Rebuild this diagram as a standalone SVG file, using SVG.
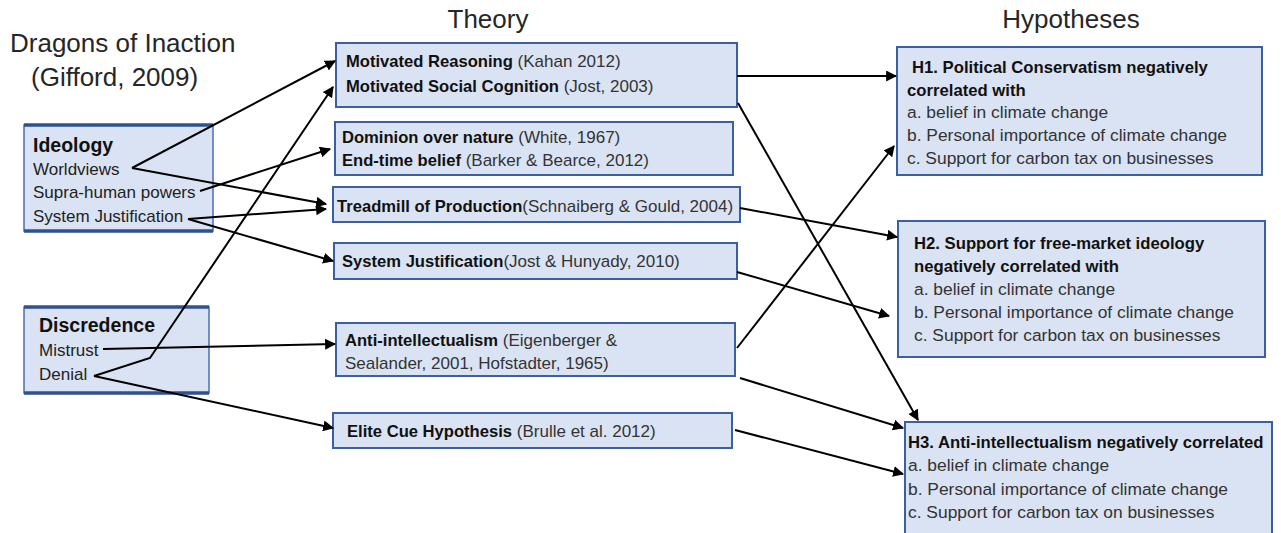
<svg xmlns="http://www.w3.org/2000/svg" width="1281" height="533" viewBox="0 0 1281 533">
  <style>
    text { font-family: "Liberation Sans", Arial, sans-serif; fill: #222; }
    .title { font-size: 26px; fill: #262626; }
    .head { font-size: 19.5px; font-weight: bold; fill: #111; }
    .item { font-size: 17px; }
    .tb { font-size: 16.6px; font-weight: bold; fill: #111; }
    .tr { font-size: 17px; font-weight: normal; fill: #333; }
    .hb { font-size: 16.7px; font-weight: bold; fill: #111; }
    .hr { font-size: 17.4px; fill: #333; }
    .box { fill: #dae3f3; stroke: #3b5fa0; stroke-width: 2; }
    .side { fill: #dae3f3; stroke: #4a6fae; stroke-width: 1.5; }
    .edge { stroke: #2f528f; stroke-width: 3.5; }
    .conn { fill: none; stroke: #000; stroke-width: 2; marker-end: url(#arrow); }
  </style>
  <defs>
    <marker id="arrow" viewBox="0 0 10 10" refX="9" refY="5" markerWidth="5.5" markerHeight="5.5" orient="auto" markerUnits="strokeWidth">
      <path d="M0,0 L10,5 L0,10 z" fill="#000"/>
    </marker>
  </defs>

  <!-- column headings -->
  <g id="headings">
    <text class="title" x="10" y="52">Dragons of Inaction</text>
    <text class="title" x="31" y="86">(Gifford, 2009)</text>
    <text class="title" x="488" y="28" text-anchor="middle">Theory</text>
    <text class="title" x="1071" y="28" text-anchor="middle">Hypotheses</text>
  </g>

  <!-- left-hand source boxes -->
  <g id="ideology">
    <rect class="side" x="24" y="125" width="189" height="106"/>
    <line class="edge" x1="24" y1="125" x2="213" y2="125"/>
    <line class="edge" x1="24" y1="231" x2="213" y2="231"/>
    <text class="head" x="33" y="152">Ideology</text>
    <text class="item" x="33" y="175">Worldviews</text>
    <text class="item" x="33" y="198">Supra-human powers</text>
    <text class="item" x="33" y="222">System Justification</text>
  </g>
  <g id="discredence">
    <rect class="side" x="24" y="307" width="185" height="86"/>
    <line class="edge" x1="24" y1="307" x2="209" y2="307"/>
    <line class="edge" x1="24" y1="393" x2="209" y2="393"/>
    <text class="head" x="39" y="332">Discredence</text>
    <text class="item" x="39" y="356">Mistrust</text>
    <text class="item" x="39" y="380">Denial</text>
  </g>

  <!-- theory boxes -->
  <g id="motivated">
    <rect class="box" x="336" y="43" width="401" height="64"/>
    <text class="tb" x="346" y="67">Motivated Reasoning<tspan class="tr"> (Kahan 2012)</tspan></text>
    <text class="tb" x="346" y="92">Motivated Social Cognition<tspan class="tr"> (Jost, 2003)</tspan></text>
  </g>
  <g id="dominion">
    <rect class="box" x="335" y="122" width="398" height="53"/>
    <text class="tb" x="342" y="143">Dominion over nature<tspan class="tr"> (White, 1967)</tspan></text>
    <text class="tb" x="342" y="166">End-time belief<tspan class="tr"> (Barker &amp; Bearce, 2012)</tspan></text>
  </g>
  <g id="treadmill">
    <rect class="box" x="333" y="187" width="407" height="35"/>
    <text class="tb" x="337" y="212">Treadmill of Production<tspan class="tr">(Schnaiberg &amp; Gould, 2004)</tspan></text>
  </g>
  <g id="system-justification">
    <rect class="box" x="334" y="243" width="403" height="36"/>
    <text class="tb" x="342" y="267">System Justification<tspan class="tr">(Jost &amp; Hunyady, 2010)</tspan></text>
  </g>
  <g id="anti-intellectualism">
    <rect class="box" x="336" y="323" width="399" height="53"/>
    <text class="tb" x="345" y="346">Anti-intellectualism<tspan class="tr"> (Eigenberger &amp;</tspan></text>
    <text class="tr" x="345" y="369">Sealander, 2001, Hofstadter, 1965)</text>
  </g>
  <g id="elite-cue">
    <rect class="box" x="333" y="413" width="399" height="35"/>
    <text class="tb" x="347" y="437">Elite Cue Hypothesis<tspan class="tr"> (Brulle et al. 2012)</tspan></text>
  </g>

  <!-- hypothesis boxes -->
  <g id="h1">
    <rect class="box" x="897" y="47" width="365" height="128"/>
    <text class="hb" x="912" y="73">H1. Political Conservatism negatively</text>
    <text class="hb" x="907" y="96">correlated with</text>
    <text class="hr" x="907" y="118">a. belief in climate change</text>
    <text class="hr" x="907" y="141">b. Personal importance of climate change</text>
    <text class="hr" x="907" y="164">c. Support for carbon tax on businesses</text>
  </g>
  <g id="h2">
    <rect class="box" x="898" y="221" width="367" height="136"/>
    <text class="hb" x="914" y="249">H2. Support for free-market ideology</text>
    <text class="hb" x="914" y="272">negatively correlated with</text>
    <text class="hr" x="914" y="295">a. belief in climate change</text>
    <text class="hr" x="914" y="318">b. Personal importance of climate change</text>
    <text class="hr" x="914" y="341">c. Support for carbon tax on businesses</text>
  </g>
  <g id="h3">
    <rect class="box" x="905" y="422" width="367" height="120"/>
    <text class="hb" x="908" y="448">H3. Anti-intellectualism negatively correlated</text>
    <text class="hr" x="908" y="471">a. belief in climate change</text>
    <text class="hr" x="908" y="495">b. Personal importance of climate change</text>
    <text class="hr" x="908" y="518">c. Support for carbon tax on businesses</text>
  </g>

  <!-- connectors -->
  <g id="connectors">
    <path class="conn" d="M132,168 L335,61"/>
    <path class="conn" d="M132,168 L326,204"/>
    <path class="conn" d="M200,191 L330,149"/>
    <path class="conn" d="M188,219 L326,209"/>
    <path class="conn" d="M188,219 L333,261"/>
    <path class="conn" d="M103,349 L335,344"/>
    <path class="conn" d="M94,376 L150,358 L333,87"/>
    <path class="conn" d="M94,376 L333,428"/>
    <path class="conn" d="M737,76 L896,76"/>
    <path class="conn" d="M738,103 L918,420"/>
    <path class="conn" d="M740,208 L897,237"/>
    <path class="conn" d="M737,272 L889,316"/>
    <path class="conn" d="M737,348 L894,146"/>
    <path class="conn" d="M740,378 L903,428"/>
    <path class="conn" d="M735,430 L903,474"/>
  </g>
</svg>
